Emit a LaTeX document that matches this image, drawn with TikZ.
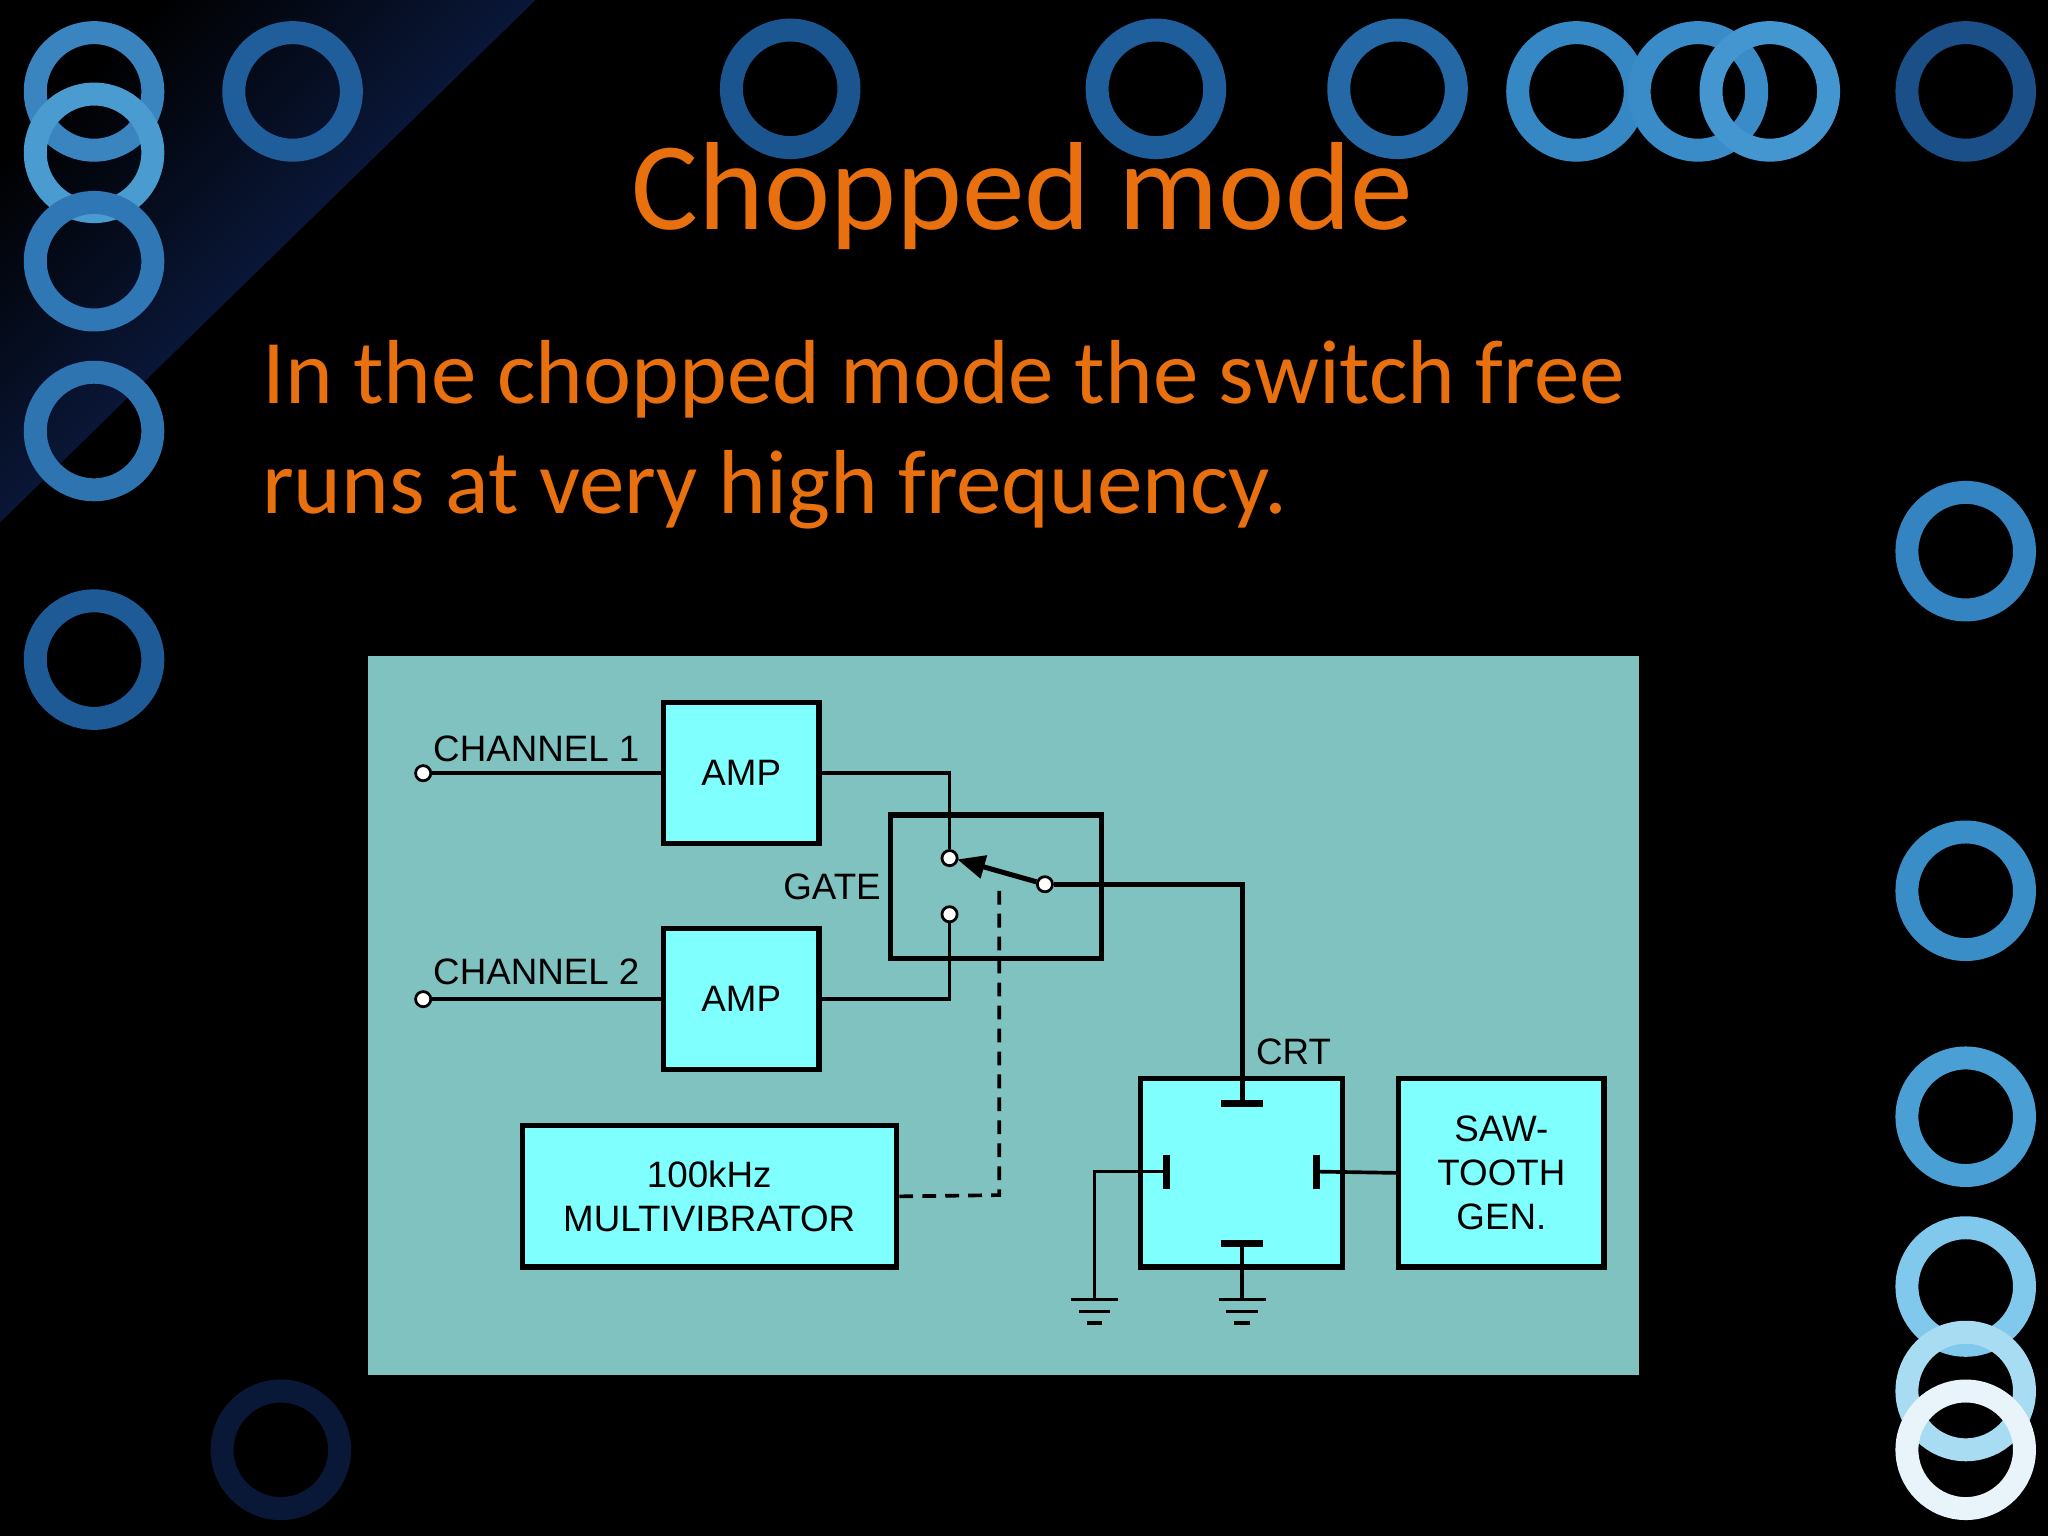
\documentclass[tikz,border=0pt]{standalone}
\usepackage{fontspec}
\setmainfont{Carlito}
\newfontfamily\dsans{Liberation Sans}
\usetikzlibrary{arrows.meta}
\definecolor{orng}{HTML}{E8700F}
\definecolor{panel}{HTML}{80C2C0}
\definecolor{boxc}{HTML}{80FFFF}
\begin{document}
\begin{tikzpicture}[x=0.01cm,y=-0.01cm,
  blk/.style={draw=black,line width=1.1pt,fill=boxc},
  wire/.style={line width=0.8pt},
  lab/.style={font=\dsans\fontsize{8}{9.5}\selectfont,inner sep=0pt},
  term/.style={circle,draw,fill=white,inner sep=0pt,minimum size=3.3pt,line width=0.6pt},
  ring/.style={line width=5pt},
  gnd/.style={line width=0.8pt}]
\fill[black] (0,0) rectangle (1568,1176);
\useasboundingbox (0,0) rectangle (1568,1176);
\shade[left color=black,right color={rgb,255:red,20;green,45;blue,110}, shading angle=45] (0,0) -- (410,0) -- (0,400) -- cycle;
% rings
\foreach \x/\y/\c in {72/70/3A85C0,72/117/4A9BD0,72/200/2F78B5,72/330/2D74B0,72/505/1E5A95,224/70/1F5E9A,605/68/1A5590,885/68/1E5E9A,1070/68/2468A5,1207/70/3688C5,1300/70/3A8CC8,1355/70/4496D0,1505/70/1A4F88,1505/422/3384C0,1505/682/3A8EC8,1505/855/4AA0D5,1505/985/80C8EC,1505/1065/A8DCF2,1505/1110/E8F4FA,215/1110/0A1838}
  {\definecolor{rc}{HTML}{\c}\draw[ring,rc] (\x,\y) circle (45);}
% texts
\node[orng,font=\fontsize{27.3}{32}\selectfont] (title) at (783,150) {Chopped mode};
\node[orng,font=\fontsize{19.8}{24}\selectfont,anchor=base west,align=left,inner sep=0pt] (body) at (200,393) {In the chopped mode the switch free\\runs at very high frequency.};
% panel
\fill[panel] (282,502) rectangle (1255,1053);
\node[blk,minimum width=1.19cm,minimum height=1.08cm,lab,draw] (amp1) at (567.5,592) {AMP};
\node[blk,minimum width=1.19cm,minimum height=1.08cm,lab,draw] (amp2) at (567.5,765) {AMP};
\draw[line width=1.1pt] (682,624) rectangle (843,734);
\node[blk,minimum width=2.86cm,minimum height=1.08cm,lab,draw,align=center] (mv) at (543,916) {100kHz\\MULTIVIBRATOR};
\node[blk,minimum width=1.55cm,minimum height=1.44cm,draw] (crt) at (950.5,898) {};
\node[blk,minimum width=1.57cm,minimum height=1.44cm,lab,draw,align=center] (saw) at (1149.5,898) {SAW-\\TOOTH\\GEN.};
% inputs
\node[term] (t1) at (324,592) {};
\node[term] (t2) at (324,765) {};
\draw[wire] (t1) -- (amp1.west);
\draw[wire] (t2) -- (amp2.west);
\node[lab,anchor=south west] at (331,584) {CHANNEL 1};
\node[lab,anchor=south west] at (331,755) {CHANNEL 2};
% switch
\node[term] (c1) at (727,657) {};
\node[term] (c2) at (727,700) {};
\node[term] (pv) at (800,677) {};
\draw[wire] (amp1.east) -- (727,592) -- (c1);
\draw[wire] (amp2.east) -- (727,765) -- (c2);
\draw[line width=1.1pt,-{Triangle[length=6pt,width=5pt]}] (pv) -- (733,658);
\node[lab,anchor=east] at (675,679) {GATE};
\coordinate (pt) at (951,845);
\draw[wire,line width=1.1pt] (pv) -- (951,677) -- (pt);
\draw[line width=1.5pt] (935,845) -- (967,845);
\node[lab,anchor=south west] at (961,816) {CRT};
\draw[wire,dash pattern=on 3pt off 2pt] (765,682) -- (765,915) -- (mv.east);
% CRT plates
\draw[line width=1.5pt] (893,884) -- (893,910);
\draw[line width=1.5pt] (1008,884) -- (1008,910);
\draw[line width=1.5pt] (935,952) -- (967,952);
\coordinate (g1) at (838,995);
\coordinate (g2) at (951,995);
\draw[wire] (893,897) -- (838,897) -- (g1);
\draw[wire] (1008,897) -- (saw.west);
\draw[wire] (951,952) -- (g2);
\foreach \g in {g1,g2}{
  \draw[gnd] ([xshift=-0.18cm]\g) -- ([xshift=0.18cm]\g);
  \draw[gnd] ([xshift=-0.12cm,yshift=-0.09cm]\g) -- ([xshift=0.12cm,yshift=-0.09cm]\g);
  \draw[gnd] ([xshift=-0.06cm,yshift=-0.18cm]\g) -- ([xshift=0.06cm,yshift=-0.18cm]\g);
}
\end{tikzpicture}
\end{document}
